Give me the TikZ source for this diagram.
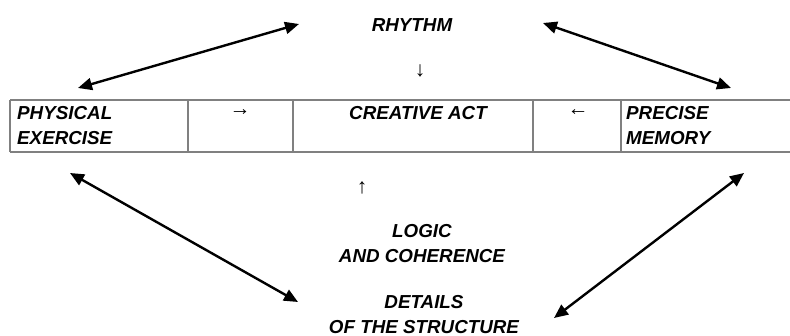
\documentclass[tikz,border=0pt]{standalone}
\usepackage{fontspec}
\setmainfont{Liberation Sans}
\usetikzlibrary{arrows.meta}
\begin{document}
\begin{tikzpicture}[x=1pt,y=-1pt,
  lbl/.style={font=\fontsize{18.8}{24.5}\selectfont\bfseries\itshape, inner sep=0pt},
  sym/.style={font=\fontsize{21}{24}\selectfont, inner sep=0pt, text=black},
  rule/.style={draw=black!50, line width=1.5pt},
  link/.style={line width=2.4pt, {Triangle[length=14pt,width=12pt]}-{Triangle[length=14pt,width=12pt]}}]
\useasboundingbox (0,0) rectangle (790,336);
% table
\draw[rule] (10,100) -- (790,100);
\draw[rule] (10,152) -- (790,152);
\foreach \xx in {10,188,293,533,621} \draw[rule] (\xx,100) -- (\xx,152);
% texts
\node[lbl, anchor=north] (rhythm) at (412,18) {RHYTHM};
\node[sym] (down) at (420,71) {↓};
\node[lbl, anchor=north] (creative) at (418,106) {CREATIVE ACT};
\node[lbl, anchor=north west, align=left] (physical) at (17,106.3) {PHYSICAL\\EXERCISE};
\node[lbl, anchor=north west, align=left] (precise) at (626,106.3) {PRECISE\\MEMORY};
\node[sym] (right) at (240,113) {→};
\node[sym] (left) at (578,113) {←};
\node[sym] (up) at (362,188) {↑};
\node[lbl, anchor=north, align=center] (logic) at (422,224.5) {LOGIC\\AND COHERENCE};
\node[lbl, anchor=north, align=center] (details) at (424,295.3) {DETAILS\\OF THE STRUCTURE};
% arrow ends
\coordinate (a1s) at (78,88);  \coordinate (a1e) at (299,24);
\coordinate (a2s) at (543,23); \coordinate (a2e) at (731,88);
\coordinate (a3s) at (70,173); \coordinate (a3e) at (298,302);
\coordinate (a4s) at (744,173);\coordinate (a4e) at (554,318);
\draw[link] (a1s) -- (a1e);
\draw[link] (a2s) -- (a2e);
\draw[link] (a3s) -- (a3e);
\draw[link] (a4s) -- (a4e);
\end{tikzpicture}
\end{document}
